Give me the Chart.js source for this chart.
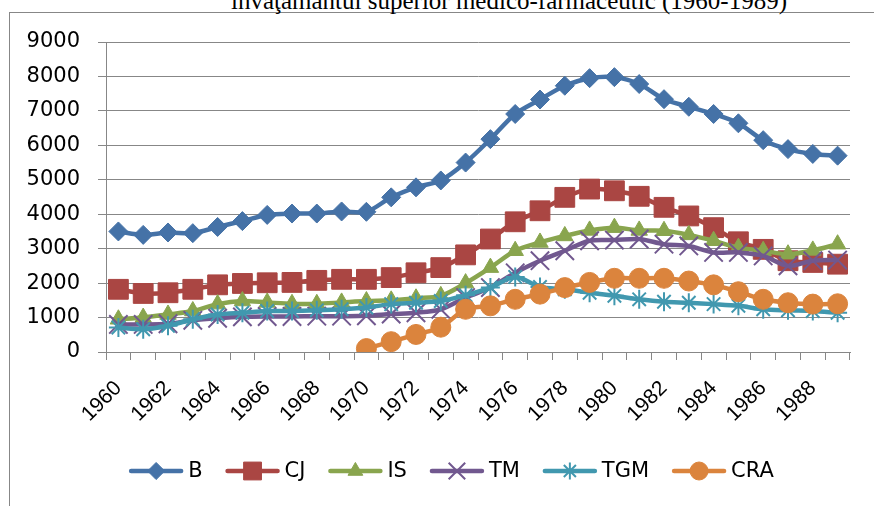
<!DOCTYPE html>
<html>
<head>
<meta charset="utf-8">
<script src="https://cdn.jsdelivr.net/npm/chart.js@4.4.1/dist/chart.umd.min.js"></script>
<style>
  body { margin: 0; background: #fff; width: 875px; height: 506px; overflow: hidden; position: relative; }
  #frame { position: absolute; left: 9px; top: 12px; width: 864px; height: 600px;
           border-left: 1px solid #878787; border-top: 1px solid #878787; }
  #title { position: absolute; left: 0; width: 1018px; top: -12px; text-align: center;
           font: 25px/25px "Liberation Serif", "Times New Roman", serif; white-space: nowrap; color: #000; }
  #chart { position: absolute; left: 0; top: 0; }
</style>
</head>
<body>
<div id="frame"></div>
<div id="title">învăţământul superior medico-farmaceutic (1960-1989)</div>
<canvas id="chart" width="875" height="506"></canvas>
<script>
// --- Daten ---
const years = ['1960','1961','1962','1963','1964','1965','1966','1967','1968','1969',
               '1970','1971','1972','1973','1974','1975','1976','1977','1978','1979',
               '1980','1981','1982','1983','1984','1985','1986','1987','1988','1989'];
const seriesNames = ['B', 'CJ', 'IS', 'TM', 'TGM', 'CRA'];

const valuesB   = [3500,3400,3470,3450,3630,3800,3980,4020,4020,4080,4070,4490,4780,4980,5500,
                   6180,6910,7330,7730,7950,7980,7780,7340,7120,6910,6640,6150,5890,5750,5700];
const valuesCJ  = [1820,1700,1720,1820,1950,1990,2010,2020,2080,2110,2110,2160,2300,2450,2820,
                   3280,3780,4100,4490,4730,4680,4520,4200,3950,3610,3200,2980,2650,2600,2550];
const valuesIS  = [950,1000,1090,1190,1390,1480,1440,1400,1400,1440,1480,1500,1560,1630,2000,
                   2450,2940,3180,3370,3530,3610,3530,3520,3400,3230,3030,2940,2840,2950,3130];
const valuesTM  = [800,800,820,920,980,1020,1030,1030,1040,1040,1050,1100,1140,1240,1580,
                   1870,2300,2650,2940,3230,3250,3280,3130,3080,2890,2890,2790,2500,2650,2670];
const valuesTGM = [710,660,760,950,1090,1140,1190,1190,1210,1240,1290,1390,1430,1480,1650,
                   1870,2180,1890,1820,1720,1630,1530,1460,1430,1390,1340,1240,1210,1190,1140];
const valuesCRA = [null,null,null,null,null,null,null,null,null,null,
                   100,300,510,720,1240,1340,1530,1680,1870,2020,2140,2140,2140,2060,1950,
                   1750,1530,1430,1390,1400];

const yMin = 0, yMax = 9000, yStep = 1000;

// --- Stil pro Serie ---
const seriesStyles = [
  { color: '#4572A7', pointStyle: 'rectRot',  radius: 9.5,  borderWidth: 1 },
  { color: '#AA4643', pointStyle: 'rect',     radius: 14,   borderWidth: 1 },
  { color: '#89A54E', pointStyle: 'triangle', radius: 9.5,  borderWidth: 1 },
  { color: '#71588F', pointStyle: 'crossRot', radius: 13,   borderWidth: 2 },
  { color: '#4198AF', pointStyle: 'star',     radius: 9.5,  borderWidth: 2 },
  { color: '#DB843D', pointStyle: 'circle',   radius: 10,   borderWidth: 1 }
];
const allValues = [valuesB, valuesCJ, valuesIS, valuesTM, valuesTGM, valuesCRA];

const tickFont = { family: '"DejaVu Sans", "Liberation Sans", sans-serif', size: 21 };
const xTickFont = { family: '"Liberation Sans", sans-serif', size: 21 };
const gridColor = '#878787';

const datasets = seriesNames.map(function(name, i) {
  const s = seriesStyles[i];
  return {
    label: name,
    data: allValues[i],
    borderColor: s.color,
    backgroundColor: s.color,
    borderWidth: 4.5,
    tension: 0.3,
    pointStyle: s.pointStyle,
    pointRadius: s.radius,
    pointBorderWidth: s.borderWidth,
    pointBackgroundColor: s.color,
    pointBorderColor: s.color,
    order: seriesNames.length - 1 - i   // spätere Serien oben (wie Excel)
  };
});

// --- Legende: Linie + Marker + Text ---
const lineLegend = {
  id: 'lineLegend',
  afterDraw(chart) {
    const ctx = chart.ctx;
    const y = 471, lineW = 54, gapText = 5, gapItem = 23, centerX = 451.5;
    ctx.save();
    ctx.font = tickFont.size + 'px ' + tickFont.family;
    const widths = seriesNames.map(n => ctx.measureText(n).width);
    let total = 0;
    widths.forEach(w => total += lineW + gapText + w);
    total += gapItem * (seriesNames.length - 1);
    let x = centerX - total / 2;
    for (let i = 0; i < seriesNames.length; i++) {
      const s = seriesStyles[i];
      ctx.strokeStyle = s.color;
      ctx.fillStyle = s.color;
      ctx.lineWidth = 4.5;
      ctx.lineCap = 'round';
      ctx.beginPath();
      ctx.moveTo(x + 2, y);
      ctx.lineTo(x + lineW - 2, y);
      ctx.stroke();
      ctx.lineCap = 'butt';
      ctx.lineWidth = s.borderWidth;
      Chart.helpers.drawPoint(ctx, { pointStyle: s.pointStyle, radius: s.radius * 0.9, rotation: 0, borderWidth: s.borderWidth }, x + lineW / 2, y);
      ctx.fillStyle = '#000';
      ctx.textBaseline = 'middle';
      ctx.textAlign = 'left';
      ctx.fillText(seriesNames[i], x + lineW + gapText, y + 1);
      x += lineW + gapText + widths[i] + gapItem;
    }
    ctx.restore();
  }
};

new Chart(document.getElementById('chart'), {
  type: 'line',
  data: { labels: years, datasets: datasets },
  plugins: [lineLegend],
  options: {
    responsive: false,
    animation: false,
    layout: { padding: { top: 42, right: 25, bottom: 0, left: 0 } },
    plugins: { legend: { display: false }, tooltip: { enabled: false } },
    scales: {
      x: {
        offset: true,
        grid: { offset: true, drawOnChartArea: false, drawTicks: true, tickLength: 8, color: gridColor },
        border: { color: gridColor, width: 1 },
        ticks: {
          autoSkip: false, minRotation: 45, maxRotation: 45, padding: 16,
          color: '#000', font: xTickFont,
          callback: function(value, index) { return index % 2 === 0 ? this.getLabelForValue(value) : ''; }
        },
        afterFit: function(scale) { scale.height = 154; }
      },
      y: {
        min: yMin, max: yMax,
        grid: { color: gridColor, tickLength: 8 },
        border: { color: gridColor, width: 1 },
        ticks: {
          stepSize: yStep, padding: 18, color: '#000', font: tickFont,
          callback: function(value) { return String(value); }
        },
        afterFit: function(scale) { scale.width = 106; }
      }
    }
  }
});
</script>
</body>
</html>
